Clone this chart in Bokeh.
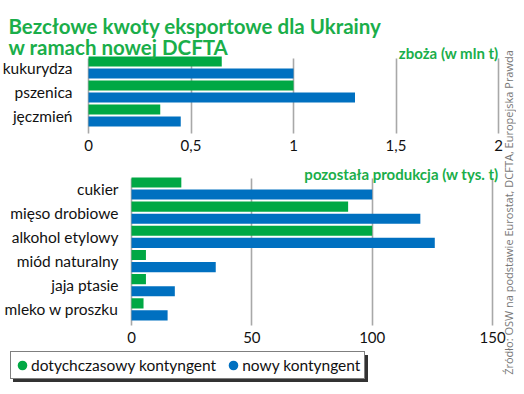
import math
from bokeh.plotting import figure
from bokeh.models import (ColumnDataSource, Range1d, FixedTicker, Label, Legend,
                          LegendItem, LinearAxis)
from bokeh.transform import dodge
from bokeh.embed import file_html
from bokeh.resources import INLINE

# ---- data ----
grain_cats = ["kukurydza", "pszenica", "jęczmień"]
grain_old = [0.65, 1.0, 0.35]
grain_new = [1.0, 1.3, 0.45]
grain_ticks = [0, 0.5, 1, 1.5, 2]
grain_tick_labels = ["0", "0,5", "1", "1,5", "2"]

other_cats = ["cukier", "mięso drobiowe", "alkohol etylowy", "miód naturalny",
              "jaja ptasie", "mleko w proszku"]
other_old = [20.7, 90, 100, 6, 6, 5]
other_new = [100, 120, 126, 35, 18, 15]
other_ticks = [0, 50, 100, 150]
other_tick_labels = ["0", "50", "100", "150"]

title_1 = "Bezcłowe kwoty eksportowe dla Ukrainy"
title_2 = "w ramach nowej DCFTA"
unit_top = "zboża (w mln t)"
unit_bottom = "pozostała produkcja (w tys. t)"
legend_labels = ["dotychczasowy kontyngent", "nowy kontyngent"]
source_text = "Źródło: OSW na podstawie Eurostat, DCFTA, Europejska Prawda"

GREEN = "#00a844"
TITLE_GREEN = "#1aae4a"
BLUE = "#0070c0"
GRID = "#a8a8a8"
FONT = "Lato"

W, H = 516, 386
OX, OY = 0, 0

# pixel layout (picture coordinates)
TOP_X0, TOP_PX = 88, 205.0       # x of value 0, px per unit (grains)
BOT_X0, BOT_PX = 131, 2.407      # x of value 0, px per unit (other)
TOP_Y0, TOP_BAND = 67, 24.0      # centre of first category, px per category
BOT_Y0, BOT_BAND = 188, 24.17


def xr(x0, px):
    return Range1d((OX - x0) / px, (OX + W - x0) / px)


def yr(y0, band):
    # inverted: first category on top
    return Range1d((OY + H - y0) / band, (OY - y0) / band)


p = figure(width=W, height=H, output_backend="svg", toolbar_location=None,
           x_range=xr(TOP_X0, TOP_PX), y_range=yr(TOP_Y0, TOP_BAND),
           min_border=0, min_border_left=0, min_border_right=0,
           min_border_top=0, min_border_bottom=0)
p.extra_x_ranges = {"bot": xr(BOT_X0, BOT_PX)}
p.extra_y_ranges = {"bot": yr(BOT_Y0, BOT_BAND)}
p.xaxis.visible = False
p.yaxis.visible = False
p.xgrid.visible = False
p.ygrid.visible = False
p.outline_line_color = None
p.background_fill_color = "white"
p.border_fill_color = "white"


def add_axes(ticks, labels, cats, xname, yname, axis_y_px, grid_top_px, y0, band, standoff_y):
    # value axis (its ticks drawn upward form the grid lines)
    ax = LinearAxis(x_range_name=xname, y_range_name=yname,
                    fixed_location=(axis_y_px - y0) / band,
                    ticker=FixedTicker(ticks=ticks),
                    major_label_overrides={t: l for t, l in zip(ticks, labels)})
    ax.level = "underlay"
    ax.axis_line_color = None
    ax.major_tick_in = axis_y_px - grid_top_px
    ax.major_tick_out = 0
    ax.major_tick_line_color = GRID
    ax.major_tick_line_width = 1.6
    ax.minor_tick_line_color = None
    ax.major_label_text_font = FONT
    ax.major_label_text_font_size = "15px"
    ax.major_label_text_color = "#111111"
    ax.major_label_standoff = 6
    p.add_layout(ax, "below")
    # category axis
    idx = list(range(len(cats)))
    cax = LinearAxis(x_range_name=xname, y_range_name=yname, fixed_location=0,
                     ticker=FixedTicker(ticks=idx),
                     major_label_overrides={i: c for i, c in zip(idx, cats)})
    cax.axis_line_color = None
    cax.major_tick_line_color = None
    cax.minor_tick_line_color = None
    cax.major_label_text_font = FONT
    cax.major_label_text_font_size = "15.5px"
    cax.major_label_text_color = "#111111"
    cax.major_label_standoff = standoff_y
    p.add_layout(cax, "left")


# ---- top chart (grains) ----
src_top = ColumnDataSource(dict(idx=list(range(len(grain_cats))), old=grain_old, new=grain_new))
p.hbar(y=dodge("idx", -0.25), right="old", left=0, height=0.42,
       source=src_top, fill_color=GREEN, line_color=None)
p.hbar(y=dodge("idx", 0.25), right="new", left=0, height=0.42,
       source=src_top, fill_color=BLUE, line_color=None)
add_axes(grain_ticks, grain_tick_labels, grain_cats, "default", "default",
         133, 58, TOP_Y0, TOP_BAND, 10)

# ---- bottom chart (other products) ----
src_bot = ColumnDataSource(dict(idx=list(range(len(other_cats))), old=other_old, new=other_new))
p.hbar(y=dodge("idx", -0.25), right="old", left=0, height=0.42, source=src_bot,
       fill_color=GREEN, line_color=None, x_range_name="bot", y_range_name="bot")
p.hbar(y=dodge("idx", 0.25), right="new", left=0, height=0.42, source=src_bot,
       fill_color=BLUE, line_color=None, x_range_name="bot", y_range_name="bot")
add_axes(other_ticks, other_tick_labels, other_cats, "bot", "bot",
         325, 178, BOT_Y0, BOT_BAND, 7)


def px_x(x, x0=TOP_X0, px=TOP_PX):
    return (x - x0) / px


def px_y(y, y0=TOP_Y0, band=TOP_BAND):
    return (y - y0) / band


# ---- texts ----
for txt, yy in ((title_1, 25), (title_2, 46.5)):
    p.add_layout(Label(x=px_x(8), y=px_y(yy), text=txt, text_font=FONT,
                       text_font_style="bold", text_font_size="20.5px",
                       text_color=TITLE_GREEN, text_baseline="alphabetic"))
p.add_layout(Label(x=px_x(498), y=px_y(52), text=unit_top, text_font=FONT,
                   text_font_style="bold", text_font_size="15px", text_color=TITLE_GREEN,
                   text_align="right", text_baseline="alphabetic"))
p.add_layout(Label(x=px_x(498), y=px_y(173), text=unit_bottom, text_font=FONT,
                   text_font_style="bold", text_font_size="15px", text_color=TITLE_GREEN,
                   text_align="right", text_baseline="alphabetic"))
p.add_layout(Label(x=px_x(508), y=px_y(212), text=source_text, angle=math.pi / 2,
                   text_align="center", text_baseline="middle",
                   text_font="Open Sans", text_font_size="11px", text_color="#777777"))

# ---- legend ----
nan_src = ColumnDataSource(dict(x=[float("nan")], y=[float("nan")]))
m_old = p.scatter(x="x", y="y", source=nan_src, marker="circle", size=10,
                  fill_color=GREEN, line_color=GREEN, line_width=4)
m_new = p.scatter(x="x", y="y", source=nan_src, marker="circle", size=10,
                  fill_color=BLUE, line_color=BLUE, line_width=4)

common = dict(orientation="horizontal", padding=4, spacing=10, glyph_width=14,
              glyph_height=14, label_standoff=2, label_height=17,
              label_text_font=FONT, label_text_font_size="15.5px")

# drop shadow: one blank item as wide as the real legend, drawn first
shadow = Legend(items=[LegendItem(label=" ", renderers=[m_old])],
                location=(10 - OX + 3, OY + H - 379 - 3), label_width=329,
                border_line_color="#333333", border_line_width=1,
                background_fill_color="#333333", background_fill_alpha=1.0,
                label_text_alpha=0, **common)
main = Legend(items=[LegendItem(label=legend_labels[0], renderers=[m_old]),
                     LegendItem(label=legend_labels[1], renderers=[m_new])],
              location=(10 - OX, OY + H - 379), label_text_color="#111111",
              border_line_color="black", border_line_width=1,
              background_fill_color="white", background_fill_alpha=1.0, **common)
p.add_layout(shadow, "center")
p.add_layout(main, "center")

with open("out.html", "w") as f:
    f.write(file_html(p, INLINE))
